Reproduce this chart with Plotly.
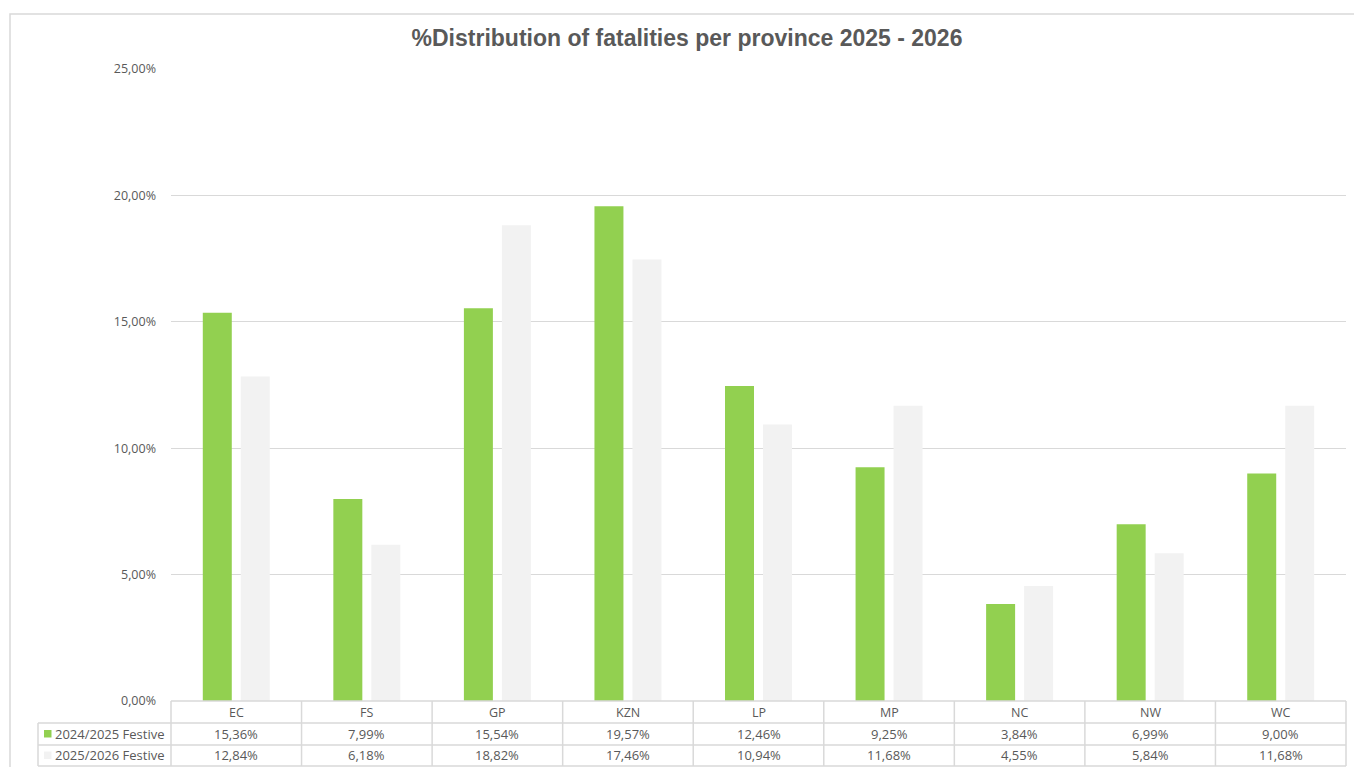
import plotly.graph_objects as go

# data
provinces = ['EC', 'FS', 'GP', 'KZN', 'LP', 'MP', 'NC', 'NW', 'WC']
festive_2024_25 = [15.36, 7.99, 15.54, 19.57, 12.46, 9.25, 3.84, 6.99, 9.00]
festive_2025_26 = [12.84, 6.18, 18.82, 17.46, 10.94, 11.68, 4.55, 5.84, 11.68]
series_names = ['2024/2025 Festive', '2025/2026 Festive']
series_colors = ['#92D050', '#F2F2F2']
y_ticks = [0, 5, 10, 15, 20, 25]

W, H = 1354, 767
L, R, T, B = 171, 8, 69, 66
plot_w = W - L - R
plot_h = H - T - B
grey_txt = '#595959'
line_c = '#D9D9D9'
font = 'Open Sans'


def px_y(p):
    # pixel row -> paper y
    return (H - B - p) / plot_h


def px_x(p):
    return (p - L) / plot_w


def pct(v):
    return f'{v:.2f}%'.replace('.', ',')


fig = go.Figure()
for name, vals, col in zip(series_names, [festive_2024_25, festive_2025_26], series_colors):
    fig.add_trace(go.Bar(x=provinces, y=vals, name=name, marker_color=col,
                         marker_line_width=0, showlegend=False))

fig.update_layout(
    width=W, height=H, margin=dict(l=L, r=R, t=T, b=B),
    plot_bgcolor='white', paper_bgcolor='white',
    barmode='group', bargap=0.418, bargroupgap=0.237,
    font=dict(family=font, color=grey_txt, size=12),
    title=dict(text='<b>%Distribution of fatalities per province 2025 - 2026</b>',
               x=687 / W, xanchor='center', y=1 - 38 / H, yanchor='middle',
               font=dict(family='Liberation Sans', size=23, color=grey_txt)),
)
fig.update_yaxes(range=[0, 25], tickvals=y_ticks, ticktext=[pct(v) for v in y_ticks],
                 showgrid=True, gridcolor=line_c, gridwidth=1, zeroline=False,
                 showline=False, ticklabelstandoff=14,
                 tickfont=dict(size=12.5, color=grey_txt))
fig.update_xaxes(showticklabels=False, showgrid=False, showline=False, zeroline=False)

shapes = []
# chart outer border (runs off the page on the right and bottom like the screenshot)
shapes.append(dict(type='rect', xref='paper', yref='paper',
                   x0=px_x(10), x1=px_x(1400), y0=px_y(800), y1=px_y(14),
                   line=dict(color=line_c, width=1.5), layer='below'))

# data table grid
row_tops = [701, 723, 745, 766]
n = len(provinces)
shapes.append(dict(type='line', xref='paper', yref='paper', x0=0, x1=1,
                   y0=px_y(701), y1=px_y(701), line=dict(color=line_c, width=1.5)))
for r in row_tops[1:]:
    shapes.append(dict(type='line', xref='paper', yref='paper', x0=px_x(38), x1=1,
                       y0=px_y(r), y1=px_y(r), line=dict(color=line_c, width=1.5)))
for i in range(n + 1):
    xv = i / n
    shapes.append(dict(type='line', xref='paper', yref='paper', x0=xv, x1=xv,
                       y0=px_y(701), y1=px_y(766), line=dict(color=line_c, width=1.5)))
shapes.append(dict(type='line', xref='paper', yref='paper', x0=px_x(38), x1=px_x(38),
                   y0=px_y(723), y1=px_y(766), line=dict(color=line_c, width=1.5)))

annotations = []
for p in provinces:
    annotations.append(dict(x=p, y=px_y(712), xref='x', yref='paper', text=p,
                            yanchor='middle', showarrow=False,
                            font=dict(size=12.5, color=grey_txt)))
for r, (name, vals, col) in enumerate(zip(series_names, [festive_2024_25, festive_2025_26], series_colors)):
    pr = (row_tops[r + 1] + row_tops[r + 2]) / 2
    yc = px_y(pr)
    for p, v in zip(provinces, vals):
        annotations.append(dict(x=p, y=yc, xref='x', yref='paper', text=pct(v),
                                yanchor='middle', showarrow=False,
                                font=dict(size=13, color=grey_txt)))
    annotations.append(dict(x=px_x(53), y=yc, xref='paper', yref='paper', text=name,
                            xanchor='left', yanchor='middle', showarrow=False,
                            font=dict(size=13, color=grey_txt)))
    shapes.append(dict(type='rect', xref='paper', yref='paper',
                       x0=px_x(44), x1=px_x(51.5), y0=px_y(pr + 3.5), y1=px_y(pr - 4),
                       fillcolor=col, line=dict(width=0)))

fig.update_layout(shapes=shapes, annotations=annotations)

fig.write_html("out.html", config={'displayModeBar': False},
               post_script="document.body.style.margin='0';")
